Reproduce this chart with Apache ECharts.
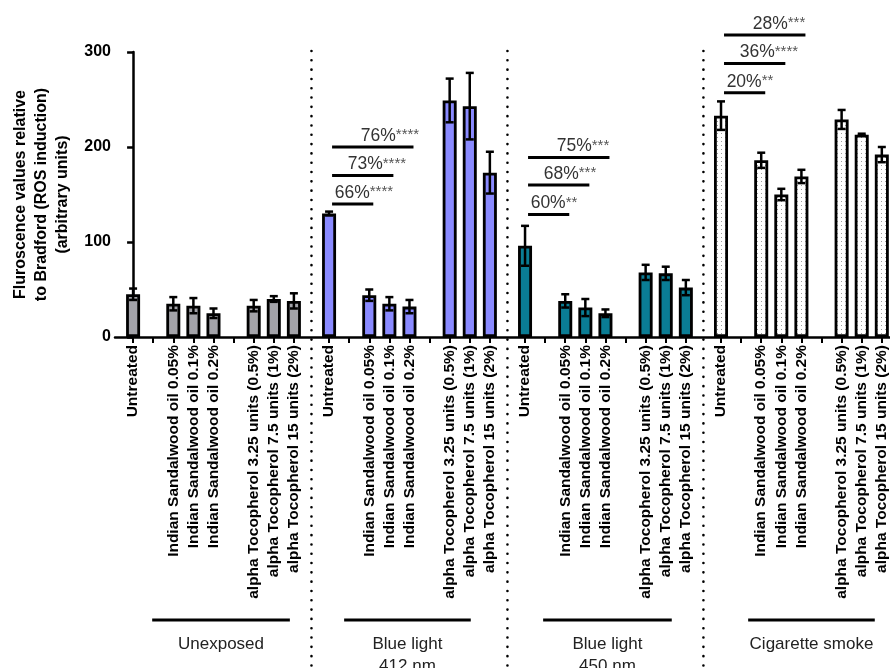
<!DOCTYPE html>
<html><head><meta charset="utf-8">
<script src="https://cdn.jsdelivr.net/npm/echarts@6/dist/echarts.min.js"></script>
<style>html,body{margin:0;padding:0;background:#fff}#c{width:890px;height:668px}</style>
</head><body><div id="c"></div>
<script>
// ---------------- data ----------------
const groups = ['Unexposed', 'Blue light\n412 nm', 'Blue light\n450 nm', 'Cigarette smoke'];
const treatments = ['Untreated', 'Indian Sandalwood oil 0.05%', 'Indian Sandalwood oil 0.1%', 'Indian Sandalwood oil 0.2%',
  'alpha Tocopherol 3.25 units (0.5%)', 'alpha Tocopherol 7.5 units (1%)', 'alpha Tocopherol 15 units (2%)'];
const meanUnexposed = [45, 35, 33, 25, 33, 40, 38];
const errUnexposed  = [6, 7, 8, 5, 6, 3, 8];
const meanBlue412   = [130, 44, 35, 32, 249, 243, 173];
const errBlue412    = [2, 6, 7, 7, 23, 35, 22];
const meanBlue450   = [96, 38, 31, 25, 68, 67, 52];
const errBlue450    = [21, 7, 9, 4, 8, 7, 8];
const meanSmoke     = [233, 186, 150, 169, 229, 213, 192];
const errSmoke      = [15, 8, 6, 7, 10, 1, 8];
const yTicks = [0, 100, 200, 300];
// significance brackets (Untreated vs sandalwood oil)
const sigGroup  = [1, 1, 1, 2, 2, 2, 3, 3, 3];
const sigTarget = [1, 2, 3, 1, 2, 3, 1, 2, 3];
const sigLevel  = [140, 170, 200, 129, 160, 189, 257, 288, 318];
const sigPct    = ['66%', '73%', '76%', '60%', '68%', '75%', '20%', '36%', '28%'];
const sigStars  = ['****', '****', '****', '**', '***', '***', '**', '****', '***'];

// ---------------- layout (slot units) ----------------
const slotOffsets = [0, 2, 3, 4, 6, 7, 8];
const blankOffsets = [1, 5];
const groupPitch = 9.75;
const dividerOffset = 8.875;
const groupSpan = [[0.95, 7.8], [10.5, 16.8], [20.4, 26.8], [30.6, 36.9]];

const means = [meanUnexposed, meanBlue412, meanBlue450, meanSmoke];
const errs = [errUnexposed, errBlue412, errBlue450, errSmoke];
const FONT = "'Liberation Sans', Arial, Helvetica, sans-serif";

const pat = document.createElement('canvas');
pat.width = 4; pat.height = 4;
const pc = pat.getContext('2d');
pc.fillStyle = '#ffffff'; pc.fillRect(0, 0, 4, 4);
pc.fillStyle = '#9c9c9c'; pc.fillRect(1, 1, 1, 1);

const fills = ['#a3a3a9', '#8a8aff', '#0a7d95', { image: pat, repeat: 'repeat' }];

const pos = (g, i) => g * groupPitch + slotOffsets[i];
const labelMap = {};
const labelVals = [], tickVals = [];
groups.forEach((g, gi) => {
  treatments.forEach((t, i) => { const v = pos(gi, i); labelMap[v.toFixed(3)] = t; labelVals.push(v); tickVals.push(v); });
  blankOffsets.forEach(b => tickVals.push(gi * groupPitch + b));
});
tickVals.sort((a, b) => a - b);

const series = [];
const barData = [];
groups.forEach((g, gi) => means[gi].forEach((m, i) => barData.push({ value: [pos(gi, i), m], itemStyle: { color: fills[gi] } })));
series.push({
  type: 'bar', barWidth: 14, z: 2, silent: true,
  data: barData,
  itemStyle: { borderColor: '#000', borderWidth: 2.8 }
});
// error bars
const errData = [];
groups.forEach((g, gi) => means[gi].forEach((m, i) => errData.push([pos(gi, i), m - errs[gi][i], m + errs[gi][i]])));
series.push({
  type: 'custom', z: 5, clip: false, silent: true,
  data: errData,
  encode: { x: 0, y: [1, 2] },
  renderItem: (params, api) => {
    const x = api.value(0);
    const a = api.coord([x, api.value(2)]), b = api.coord([x, api.value(1)]);
    const hw = 4;
    const st = { stroke: '#000', lineWidth: 2.5 };
    return { type: 'group', children: [
      { type: 'line', shape: { x1: a[0], y1: a[1], x2: b[0], y2: b[1] }, style: st },
      { type: 'line', shape: { x1: a[0] - hw, y1: a[1], x2: a[0] + hw, y2: a[1] }, style: st },
      { type: 'line', shape: { x1: b[0] - hw, y1: b[1], x2: b[0] + hw, y2: b[1] }, style: st }
    ] };
  }
});
// significance
series.push({
  type: 'custom', z: 6, clip: false, silent: true,
  data: sigGroup.map((g, k) => [pos(g, 0) + 0.15, pos(g, sigTarget[k]) + 0.2, sigLevel[k], k]),
  encode: { x: [0, 1], y: 2 },
  renderItem: (params, api) => {
    const k = api.value(3);
    const a = api.coord([api.value(0), api.value(2)]), b = api.coord([api.value(1), api.value(2)]);
    const cx = (a[0] + b[0]) / 2 + (sigTarget[k] - 1) * 3;
    return { type: 'group', children: [
      { type: 'line', shape: { x1: a[0], y1: a[1], x2: b[0], y2: b[1] }, style: { stroke: '#000', lineWidth: 3 } },
      { type: 'text', style: {
        text: '{p|' + sigPct[k] + '}{s|' + sigStars[k] + '}', x: cx - 18, y: a[1] - 2,
        align: 'left', verticalAlign: 'bottom',
        rich: { p: { fontSize: 17.5, fontFamily: FONT, fill: '#333' }, s: { fontSize: 15, fontFamily: FONT, fill: '#555', padding: [0, 0, 2, 0] } }
      } }
    ] };
  }
});
// dotted dividers
series.push({
  type: 'custom', z: 1, clip: false, silent: true,
  data: [0, 1, 2].map(g => [g * groupPitch + dividerOffset]),
  encode: { x: 0 },
  renderItem: (params, api) => {
    const p = api.coord([api.value(0), 300]);
    return { type: 'line', shape: { x1: p[0], y1: p[1] - 1, x2: p[0], y2: 668 },
      style: { stroke: '#000', lineWidth: 2.6, lineDash: [0.01, 9.3], lineCap: 'round' } };
  }
});
// group brackets and labels
series.push({
  type: 'custom', z: 1, clip: false, silent: true,
  data: groupSpan.map((s, gi) => [s[0], s[1], gi]),
  encode: { x: [0, 1] },
  renderItem: (params, api) => {
    const a = api.coord([api.value(0), 0]), b = api.coord([api.value(1), 0]);
    const gi = api.value(2);
    const y = 620;
    return { type: 'group', children: [
      { type: 'line', shape: { x1: a[0], y1: y, x2: b[0], y2: y }, style: { stroke: '#000', lineWidth: 3 } },
      { type: 'text', style: { text: groups[gi], x: (a[0] + b[0]) / 2, y: y + 13, align: 'center', verticalAlign: 'top',
        fontSize: 17, lineHeight: 22, fontFamily: FONT, fill: '#222' } }
    ] };
  }
});

const chart = echarts.init(document.getElementById('c'));
chart.setOption({
  animation: false,
  backgroundColor: '#fff',
  grid: { left: 115, right: 0, top: 52, bottom: 331, containLabel: false },
  xAxis: {
    type: 'value', min: -0.9, max: -0.9 + 775 / 20.1,
    splitLine: { show: false },
    axisLine: { show: true, onZero: false, lineStyle: { color: '#000', width: 2.5 } },
    axisTick: { show: true, customValues: tickVals, length: 6, lineStyle: { color: '#000', width: 2 } },
    axisLabel: {
      customValues: labelVals, rotate: 90, margin: 8, interval: 0,
      fontSize: 15.5, fontWeight: 'bold', fontFamily: FONT, color: '#000',
      formatter: v => labelMap[Number(v).toFixed(3)] || ''
    }
  },
  yAxis: {
    type: 'value', min: yTicks[0], max: yTicks[yTicks.length - 1], interval: 100,
    name: 'Fluroscence values relative\nto Bradford (ROS induction)\n(arbitrary units)',
    nameLocation: 'middle', nameGap: 42, nameRotate: 90,
    nameTextStyle: { fontSize: 16, fontWeight: 'bold', fontFamily: FONT, color: '#000', lineHeight: 21 },
    splitLine: { show: false },
    axisLine: { show: true, lineStyle: { color: '#000', width: 2.5 } },
    axisTick: { show: true, length: 6, lineStyle: { color: '#000', width: 2.5 } },
    axisLabel: { fontSize: 16, fontWeight: 'bold', fontFamily: FONT, color: '#000', margin: 4 }
  },
  series: series
});
</script>
</body></html>
